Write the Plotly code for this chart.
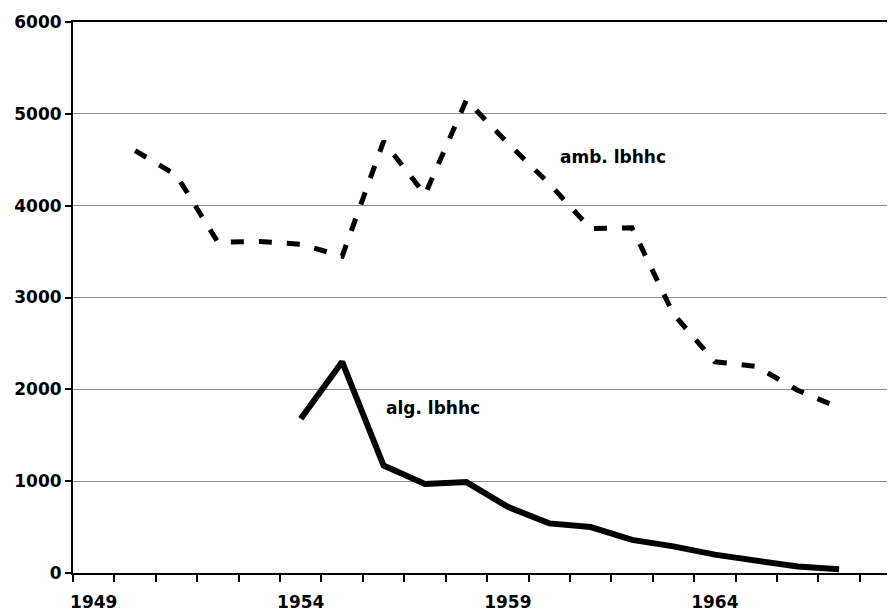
import plotly.graph_objects as go

years = list(range(1949, 1969))

amb_years = list(range(1950, 1968))
amb_values = [4600, 4330, 3600, 3610, 3580, 3450, 4700, 4120, 5150, 4680,
              4240, 3750, 3760, 2820, 2300, 2250, 1990, 1800]

alg_years = list(range(1954, 1968))
alg_values = [1680, 2300, 1170, 970, 990, 720, 540, 500, 360, 290, 200, 130, 70, 40]

x_tick_vals = [1949, 1954, 1959, 1964]
x_tick_text = ["1949", "1954", "1959", "1964"]
y_tick_vals = [0, 1000, 2000, 3000, 4000, 5000, 6000]

label_amb = "amb. lbhhc"
label_alg = "alg. lbhhc"

font_family = "DejaVu Sans"

fig = go.Figure()
fig.add_trace(go.Scatter(
    x=amb_years, y=amb_values, mode="lines",
    line=dict(color="black", width=5, dash="13px,15px"),
    name=label_amb, showlegend=False,
))
fig.add_trace(go.Scatter(
    x=alg_years, y=alg_values, mode="lines",
    line=dict(color="black", width=6),
    name=label_alg, showlegend=False,
))

fig.add_annotation(x=1960.2, y=4530, text=label_amb, showarrow=False,
                   xanchor="left", yanchor="middle",
                   font=dict(family=font_family, size=17, color="black", weight="bold"))
fig.add_annotation(x=1956.0, y=1800, text=label_alg, showarrow=False,
                   xanchor="left", yanchor="middle",
                   font=dict(family=font_family, size=17, color="black", weight="bold"))

fig.update_layout(
    width=887, height=604,
    margin=dict(l=65, r=0, t=14, b=39),
    paper_bgcolor="white", plot_bgcolor="white",
    font=dict(family=font_family, size=17, color="black", weight="bold"),
    xaxis=dict(
        range=[1948.5, 1968.35], automargin=False,
        tickmode="array", tickvals=x_tick_vals, ticktext=x_tick_text,
        ticks="", ticklabelstandoff=13,
        showgrid=False, zeroline=False,
        showline=True, linecolor="black", linewidth=2, mirror=True,
        minor=dict(tickmode="linear", tick0=1948.5, dtick=1, ticks="outside",
                   ticklen=7, tickwidth=1.5, tickcolor="black", showgrid=False),
        tickfont=dict(family=font_family, size=17, color="black", weight="bold"),
    ),
    yaxis=dict(
        range=[0, 6000], automargin=False,
        tickmode="array", tickvals=y_tick_vals,
        ticks="outside", ticklen=6, tickwidth=1.5, tickcolor="black",
        showgrid=True, gridcolor="#8c8c8c", gridwidth=1,
        zeroline=False,
        showline=True, linecolor="black", linewidth=2,
        tickfont=dict(family=font_family, size=17, color="black", weight="bold"),
    ),
)

fig.write_html("out.html")
